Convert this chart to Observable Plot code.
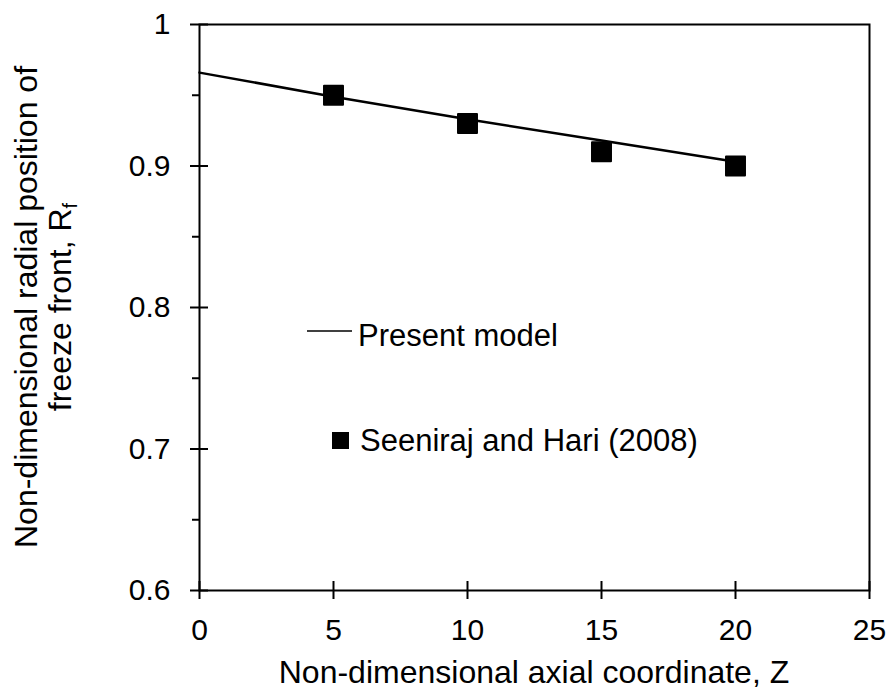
<!DOCTYPE html>
<html><head><meta charset="utf-8">
<script src="https://cdn.jsdelivr.net/npm/d3@7"></script>
<script src="https://cdn.jsdelivr.net/npm/@observablehq/plot@0.6"></script>
<style>body{margin:0;background:#fff} #chart{width:891px;height:693px}</style>
</head><body><div id="chart"></div>
<script>
// ---- data ----
const zModel = [0, 5, 10, 15, 20];
const rfModel = [0.966, 0.949, 0.933, 0.918, 0.903];
const zData = [5, 10, 15, 20];
const rfData = [0.95, 0.93, 0.91, 0.90];
const xTicks = [0, 5, 10, 15, 20, 25];
const yTicks = [0.6, 0.7, 0.8, 0.9, 1];
const yTickLabels = ["0.6", "0.7", "0.8", "0.9", "1"];
const yMinor = [0.65, 0.75, 0.85, 0.95];
const seriesNames = ["Present model", "Seeniraj and Hari (2008)"];
const xTitle = "Non-dimensional axial coordinate, Z";
const yTitleLine1 = "Non-dimensional radial position of";
const yTitleLine2 = "freeze front, R";
const yTitleSub = "f";

const model = zModel.map((z, i) => ({z, rf: rfModel[i]}));
const points = zData.map((z, i) => ({z, rf: rfData[i]}));
const FONT = '"Liberation Sans", Arial, Helvetica, sans-serif';

const plot = Plot.plot({
  width: 891, height: 693,
  marginLeft: 199, marginRight: 22, marginTop: 24, marginBottom: 103,
  style: {fontFamily: FONT, background: "#fff", color: "#000", overflow: "visible"},
  x: {domain: [0, 25]},
  y: {domain: [0.6, 1]},
  marks: [
    Plot.axisX({ticks: xTicks, tickSize: 0, tickPadding: 28, fontSize: 30, label: null, tickFormat: d => String(d)}),
    Plot.axisY({ticks: yTicks, tickSize: 0, tickPadding: 29, fontSize: 30, label: null,
      tickFormat: d => yTickLabels[yTicks.indexOf(d)]}),
    Plot.ruleX(xTicks, {x: d => d, y1: 0.6, y2: 0.6, insetTop: -9, insetBottom: -9, stroke: "black", strokeWidth: 2}),
    Plot.ruleY(yTicks, {y: d => d, x1: 0, x2: 0, insetLeft: -9, insetRight: -9, stroke: "black", strokeWidth: 2}),
    Plot.ruleY(yMinor, {y: d => d, x1: 0, x2: 0, insetLeft: -7, insetRight: 0, stroke: "black", strokeWidth: 2}),
    Plot.frame({stroke: "black", strokeWidth: 2}),
    Plot.line(model, {x: "z", y: "rf", stroke: "black", strokeWidth: 2.5}),
    Plot.dot(points, {x: "z", y: "rf", symbol: "square", r: 10.7, fill: "black", stroke: "black",
      strokeWidth: 2, strokeLinejoin: "round"})
  ]
});
document.getElementById("chart").appendChild(plot);

const svg = d3.select(plot);
const xs = plot.scale("x"), ys = plot.scale("y");
// x title
svg.append("text")
  .attr("x", (xs.apply(0) + xs.apply(25)) / 2).attr("y", 683)
  .attr("text-anchor", "middle").attr("font-size", 32).attr("fill", "black")
  .attr("font-family", FONT).text(xTitle);
// y title (two lines, rotated)
const yc = (ys.apply(0.6) + ys.apply(1)) / 2;
const yt = svg.append("text")
  .attr("transform", `translate(37,${yc}) rotate(-90)`)
  .attr("text-anchor", "middle").attr("font-size", 32).attr("fill", "black")
  .attr("font-family", FONT);
yt.append("tspan").attr("x", 0).attr("y", 0).text(yTitleLine1);
yt.append("tspan").attr("x", 0).attr("y", 34).text(yTitleLine2);
yt.append("tspan").attr("dy", 6).attr("font-size", 20).text(yTitleSub);

// legend
const lg = svg.append("g").attr("font-family", FONT).attr("font-size", 31)
  .attr("fill", "black").attr("text-anchor", "start");
lg.append("line").attr("x1", 307).attr("x2", 352).attr("y1", 331).attr("y2", 331)
  .attr("stroke", "black").attr("stroke-width", 1.3);
lg.append("text").attr("x", 358).attr("y", 346).text(seriesNames[0]);
lg.append("rect").attr("x", 332).attr("y", 432).attr("width", 17).attr("height", 17).attr("fill", "black");
lg.append("text").attr("x", 360).attr("y", 451).text(seriesNames[1]);
</script>
</body></html>
